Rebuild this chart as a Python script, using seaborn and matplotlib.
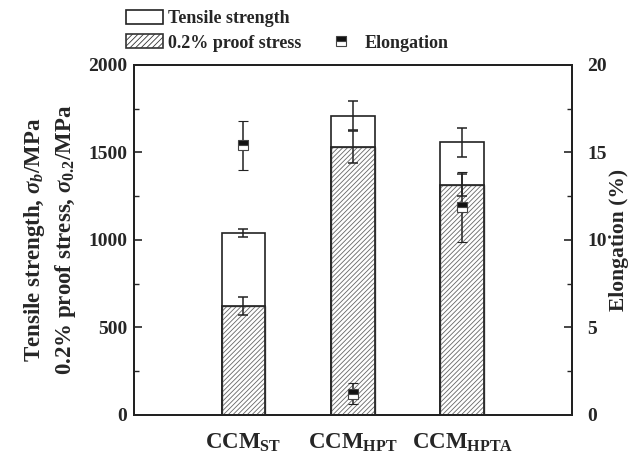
import numpy as np
import matplotlib
matplotlib.use("Agg")
import matplotlib.pyplot as plt
import seaborn as sns
from matplotlib.patches import Patch
from matplotlib.lines import Line2D

categories = [r"CCM$_{\mathbf{ST}}$", r"CCM$_{\mathbf{HPT}}$", r"CCM$_{\mathbf{HPTA}}$"]
tensile = [1040, 1710, 1558]
tensile_err = [22, 85, 82]
proof = [622, 1530, 1314]
proof_err = [54, 90, 65]
elong = [15.4, 1.2, 11.9]
elong_err = [1.4, 0.6, 2.0]

sns.set_theme(style="white")
plt.rcParams["font.family"] = ["Liberation Serif", "DejaVu Serif"]
plt.rcParams["font.weight"] = "bold"
plt.rcParams["mathtext.fontset"] = "custom"
plt.rcParams["mathtext.rm"] = "Liberation Serif:bold"
plt.rcParams["mathtext.bf"] = "Liberation Serif:bold"
plt.rcParams["mathtext.it"] = "Liberation Serif:italic:bold"
plt.rcParams["hatch.linewidth"] = 0.6

fig, ax = plt.subplots(figsize=(6.29, 4.63), dpi=100)
fig.subplots_adjust(left=0.213, right=0.909, top=0.860, bottom=0.104)

# tensile strength (open bars)
sns.barplot(x=categories, y=tensile, color="white", edgecolor="#222222",
            linewidth=1.2, width=0.4, errorbar=None, ax=ax, saturation=1)
n0 = len(ax.patches)
# proof stress (hatched bars, grey hatch)
sns.barplot(x=categories, y=proof, color="white", edgecolor="#666666",
            linewidth=1.0, width=0.4, errorbar=None, ax=ax, saturation=1)
for p in ax.patches[n0:]:
    p.set_hatch("///////")
# dark outline on the hatched bars
sns.barplot(x=categories, y=proof, color="#222222", fill=False,
            linewidth=1.2, width=0.4, errorbar=None, ax=ax)

xpos = np.arange(len(categories))
ax.errorbar(xpos, tensile, yerr=tensile_err, fmt="none", ecolor="#222222",
            elinewidth=1.1, capsize=3.6, capthick=1.1, zorder=5)
ax.errorbar(xpos, proof, yerr=proof_err, fmt="none", ecolor="#222222",
            elinewidth=1.1, capsize=3.6, capthick=1.1, zorder=5)

ax.set_xlim(-1, 3)
ax.set_ylim(0, 2000)
ax.set_yticks(np.arange(0, 2001, 500))
ax.set_yticks(np.arange(0, 2001, 250), minor=True)
ax.tick_params(axis="y", which="major", direction="in", length=6, width=1.2,
               labelsize=14, left=True, pad=5)
ax.tick_params(axis="y", which="minor", direction="in", length=3.5, width=1.0, left=True)
ax.tick_params(axis="x", length=0, labelsize=16.5, pad=12)
ax.set_ylabel("Tensile strength, $\\sigma_b$/MPa\n0.2% proof stress, $\\sigma_{0.2}$/MPa",
              fontsize=16.5, fontweight="bold", labelpad=7, linespacing=1.35)
for lab in ax.get_xticklabels() + ax.get_yticklabels():
    lab.set_fontweight("bold")

ax2 = ax.twinx()
ax2.errorbar(xpos, elong, yerr=elong_err, fmt="s", color="#222222", ecolor="#222222",
             elinewidth=1.1, capsize=3.6, capthick=1.1, markersize=7,
             fillstyle="top", markerfacecolor="#111111", markerfacecoloralt="white",
             markeredgecolor="#444444", markeredgewidth=0.8, zorder=6)
ax2.set_ylim(0, 20)
ax2.set_yticks(np.arange(0, 21, 5))
ax2.set_yticks(np.arange(0, 21, 2.5), minor=True)
ax2.tick_params(axis="y", which="major", direction="in", length=6, width=1.2,
                labelsize=14, right=True, pad=11)
ax2.tick_params(axis="y", which="minor", direction="in", length=3.5, width=1.0, right=True)
ax2.set_ylabel("Elongation (%)", fontsize=15.5, fontweight="bold", labelpad=2)
for lab in ax2.get_yticklabels():
    lab.set_fontweight("bold")

for a in (ax, ax2):
    for s in a.spines.values():
        s.set_color("#222222")
        s.set_linewidth(1.4)
        s.set_visible(True)

h_t = Patch(facecolor="white", edgecolor="#222222", linewidth=1.2)
h_p = Patch(facecolor="white", edgecolor="#333333", linewidth=1.2, hatch="//////")
h_blank = Patch(facecolor="none", edgecolor="none")
h_e = Line2D([], [], marker="s", linestyle="none", markersize=7, fillstyle="top",
             markerfacecolor="#111111", markerfacecoloralt="white",
             markeredgecolor="#444444", markeredgewidth=0.8)
fig.legend([h_t, h_p, h_blank, h_e],
           ["Tensile strength", "0.2% proof stress", "", "Elongation"],
           ncol=2, loc="upper left", bbox_to_anchor=(0.200, 0.978), frameon=False,
           prop={"family": "Liberation Serif", "weight": "bold", "size": 13},
           handlelength=2.05, handleheight=0.78, labelspacing=0.4,
           handletextpad=0.3, columnspacing=1.15, borderpad=0, borderaxespad=0)

fig.savefig("out.png", dpi=100)
